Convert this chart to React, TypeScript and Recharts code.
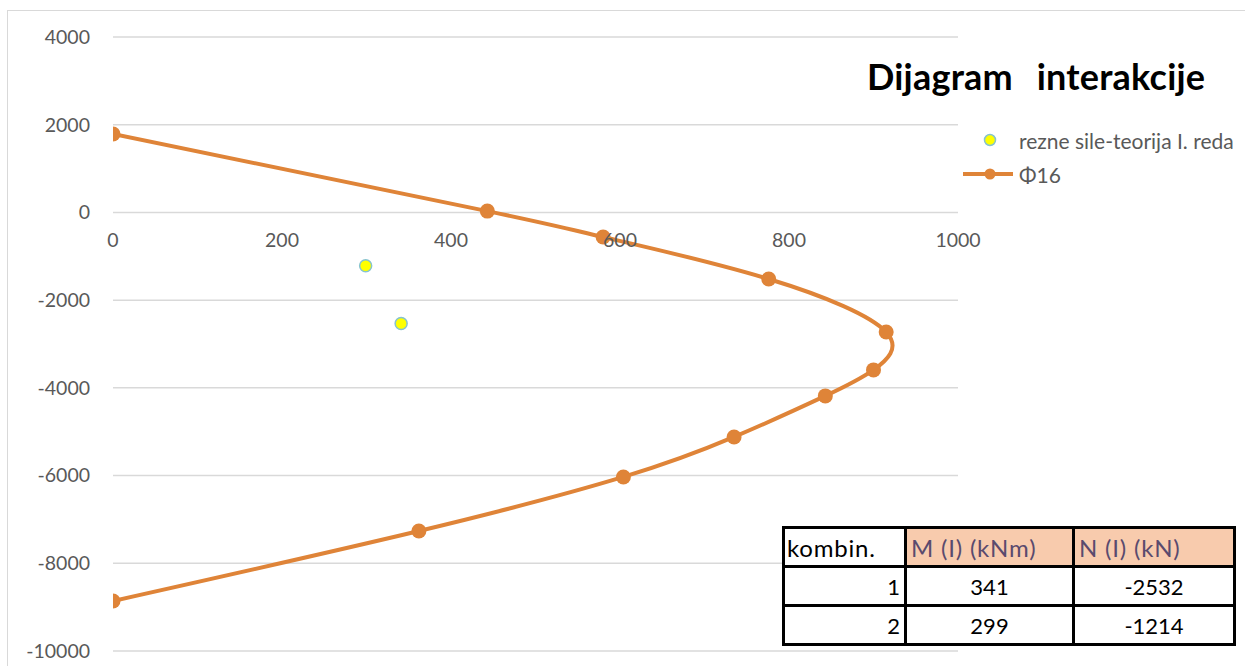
import React from 'react';
import { ComposedChart, XAxis, YAxis, CartesianGrid, Line, Scatter, ReferenceDot } from 'recharts';

const curveM = [0, 443, 580, 776, 915, 900, 843, 735, 604, 362, 0];
const curveN = [1787, 30, -561, -1518, -2727, -3591, -4184, -5119, -6031, -7264, -8860];
const combos = [1, 2];
const loadM = [341, 299];
const loadN = [-2532, -1214];
const xTicks = [0, 200, 400, 600, 800, 1000];
const yTicks = [4000, 2000, 0, -2000, -4000, -6000, -8000, -10000];
const seriesNames = ['rezne sile-teorija I. reda', 'Φ16'];
const tableHeaders = ['kombin.', 'M (I) (kNm)', 'N (I) (kN)'];
const titleText = 'Dijagram  interakcije';

const curveData = curveM.map((m, i) => ({ M: m, N: curveN[i] }));
const loadData = combos.map((c, i) => ({ k: c, M: loadM[i], N: loadN[i] }));

const ORANGE = '#DF8438';
const FONT = 'Lato, "Open Sans", sans-serif';
const GRAY = '#595959';

export default function App() {
  const cell: React.CSSProperties = {
    border: '3px solid #000',
    padding: '0 4px',
    fontSize: 22,
    fontFamily: FONT,
    height: 34,
    overflow: 'hidden',
    whiteSpace: 'nowrap',
  };
  const head: React.CSSProperties = { ...cell, fontSize: 24, letterSpacing: 0.8, textAlign: 'left' };
  return (
    <div style={{ position: 'absolute', left: 0, top: 0, width: 1245, height: 666, overflow: 'hidden', background: '#fff' }}>
      <div style={{ position: 'absolute', left: 7, top: 10, width: 1300, height: 700, border: '1.5px solid #d9d9d9' }} />
      <div style={{ position: 'absolute', left: 0, top: 0 }}>
        <ComposedChart width={1245} height={666} margin={{ top: 37, right: 287, bottom: 15, left: 0 }}>
          <CartesianGrid vertical={false} stroke="#d9d9d9" strokeWidth={1.5} />
          <XAxis type="number" dataKey="M" domain={[0, 1000]} ticks={xTicks} hide allowDataOverflow />
          <YAxis
            type="number"
            dataKey="N"
            domain={[-10000, 4000]}
            ticks={yTicks}
            width={113}
            axisLine={false}
            tickLine={false}
            tickMargin={17}
            tick={{ fill: GRAY, fontSize: 19.5, fontFamily: FONT }}
            allowDataOverflow
          />
          <Line
            data={curveData}
            dataKey="N"
            type="natural"
            stroke={ORANGE}
            strokeWidth={4}
            dot={{ r: 7.5, fill: ORANGE, stroke: ORANGE, strokeWidth: 0 }}
            isAnimationActive={false}
            name={seriesNames[1]}
          />
          <Scatter
            data={loadData}
            dataKey="N"
            fill="#FFFF00"
            stroke="#86c3cf"
            strokeWidth={1.5}
            shape={(p: any) => <circle cx={p.cx} cy={p.cy} r={6} fill="#FFFF00" stroke="#86c3cf" strokeWidth={1.5} />}
            isAnimationActive={false}
            name={seriesNames[0]}
          />
          {xTicks.map((t) => (
            <ReferenceDot
              key={t}
              x={t}
              y={0}
              r={0}
              fill="none"
              stroke="none"
              ifOverflow="visible"
              label={{ value: String(t), position: 'bottom', offset: 21, fill: GRAY, fontSize: 19.5, fontFamily: FONT }}
            />
          ))}
        </ComposedChart>
      </div>
      <div
        style={{
          position: 'absolute',
          left: 867,
          top: 54,
          fontFamily: FONT,
          fontWeight: 700,
          fontSize: 36,
          color: '#000',
          whiteSpace: 'pre',
          lineHeight: '44px',
          wordSpacing: 3,
          letterSpacing: 0.2,
        }}
      >
        {titleText}
      </div>
      <div style={{ position: 'absolute', left: 960, top: 126, fontFamily: FONT, fontSize: 21, color: GRAY, whiteSpace: 'nowrap' }}>
        <div style={{ display: 'flex', alignItems: 'center', height: 28 }}>
          <svg width={56} height={20}>
            <circle cx={30} cy={10} r={5.5} fill="#FFFF00" stroke="#86c3cf" strokeWidth={1.5} />
          </svg>
          <span style={{ marginLeft: 3 }}>{seriesNames[0]}</span>
        </div>
        <div style={{ display: 'flex', alignItems: 'center', height: 28, marginTop: 6 }}>
          <svg width={56} height={20}>
            <line x1={3} y1={10} x2={53} y2={10} stroke={ORANGE} strokeWidth={4} />
            <circle cx={30} cy={10} r={5.5} fill={ORANGE} />
          </svg>
          <span style={{ marginLeft: 3 }}>{seriesNames[1]}</span>
        </div>
      </div>
      <table
        style={{
          position: 'absolute',
          left: 782,
          top: 526,
          width: 451,
          height: 120,
          borderCollapse: 'collapse',
          background: '#fff',
          tableLayout: 'fixed',
        }}
      >
        <colgroup>
          <col style={{ width: 122 }} />
          <col style={{ width: 168 }} />
          <col style={{ width: 161 }} />
        </colgroup>
        <tbody>
          <tr>
            <td style={{ ...head, color: '#000', padding: '0 2px' }}>{tableHeaders[0]}</td>
            <td style={{ ...head, background: '#F8CBAD', color: '#5a4a6e' }}>{tableHeaders[1]}</td>
            <td style={{ ...head, background: '#F8CBAD', color: '#5a4a6e' }}>{tableHeaders[2]}</td>
          </tr>
          {loadData.map((r) => (
            <tr key={r.k}>
              <td style={{ ...cell, textAlign: 'right' }}>{r.k}</td>
              <td style={{ ...cell, textAlign: 'center' }}>{r.M}</td>
              <td style={{ ...cell, textAlign: 'center' }}>{r.N}</td>
            </tr>
          ))}
        </tbody>
      </table>
    </div>
  );
}
